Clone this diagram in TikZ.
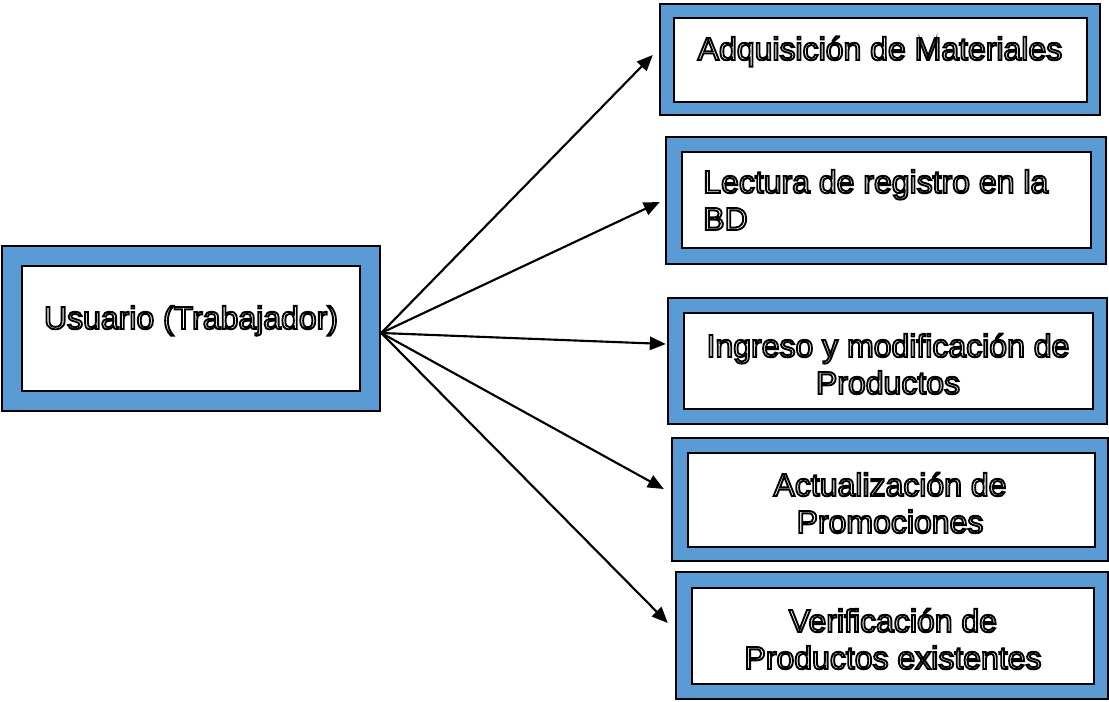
\documentclass[tikz,border=0pt]{standalone}
\usepackage{fontspec}
\setmainfont{Liberation Sans}
\usetikzlibrary{arrows.meta}
\definecolor{boxblue}{RGB}{91,155,213}
\def\hollowon{\special{pdf:literal direct 1 Tr 1.4 w}}
\def\hollowoff{\special{pdf:literal direct 0 Tr}}

\begin{document}
\begin{tikzpicture}[x=0.75pt, y=-0.75pt,
  outer/.style={draw, line width=1.8pt, fill=boxblue, inner sep=0pt},
  inner/.style={draw, line width=2.2pt, fill=white, inner sep=0pt},
  lbl/.style={inner sep=0pt, font=\fontsize{24}{27.75}\selectfont,
    execute at begin node=\hollowon, execute at end node=\hollowoff},
  arr/.style={draw, line width=1.6pt, -{Triangle[length=12pt,width=10pt]}}]
  \useasboundingbox (0,0) rectangle (1109,702);

  \node[outer, minimum width=283.5pt, minimum height=123.75pt] (u) at (191,328.5) {};
  \node[inner, minimum width=253.5pt, minimum height=93.75pt] (ui) at (191,328.5) {};
  \node[lbl, anchor=base] (tu) at (191,329) {Usuario (Trabajador)};

  \node[outer, minimum width=330pt, minimum height=83.25pt] (b1) at (880,59.5) {};
  \node[inner, minimum width=309.75pt, minimum height=63pt] (b1i) at (880.5,60) {};
  \node[lbl, anchor=base] (t1) at (880,60) {Adquisición de Materiales};

  \node[outer, minimum width=330pt, minimum height=95.25pt] (b2) at (886,200.5) {};
  \node[inner, minimum width=306.75pt, minimum height=72pt] (b2i) at (886.5,200) {};
  \node[lbl, anchor=base west, align=left] (t2) at (703,230) {Lectura de registro en la\\BD};

  \node[outer, minimum width=329.25pt, minimum height=94.5pt] (b3) at (887.5,361) {};
  \node[inner, minimum width=306.75pt, minimum height=72pt] (b3i) at (888.5,361) {};
  \node[lbl, anchor=base, align=center] (t3) at (888,394) {Ingreso y modificación de\\Productos};

  \node[outer, minimum width=327pt, minimum height=92.25pt] (b4) at (890,499.5) {};
  \node[inner, minimum width=305.25pt, minimum height=70.5pt] (b4i) at (891.5,500) {};
  \node[lbl, anchor=base, align=center] (t4) at (890,533) {Actualización de\\Promociones};

  \node[outer, minimum width=324pt, minimum height=95.25pt] (b5) at (892,635.5) {};
  \node[inner, minimum width=301.5pt, minimum height=72pt] (b5i) at (893,636) {};
  \node[lbl, anchor=base, align=center] (t5) at (893,669) {Verificación de\\Productos existentes};

  \draw[arr] ([shift={(0,4.5)}]u.east) -- ([shift={(-6,-4.5)}]b1.west);
  \draw[arr] ([shift={(0,4.5)}]u.east) -- ([shift={(-5,1.5)}]b2.west);
  \draw[arr] ([shift={(0,4.5)}]u.east) -- ([shift={(-1,-17)}]b3.west);
  \draw[arr] ([shift={(0,4.5)}]u.east) -- ([shift={(-7,-10.5)}]b4.west);
  \draw[arr] ([shift={(0,4.5)}]u.east) -- ([shift={(-7,-12.5)}]b5.west);
\end{tikzpicture}
\end{document}
